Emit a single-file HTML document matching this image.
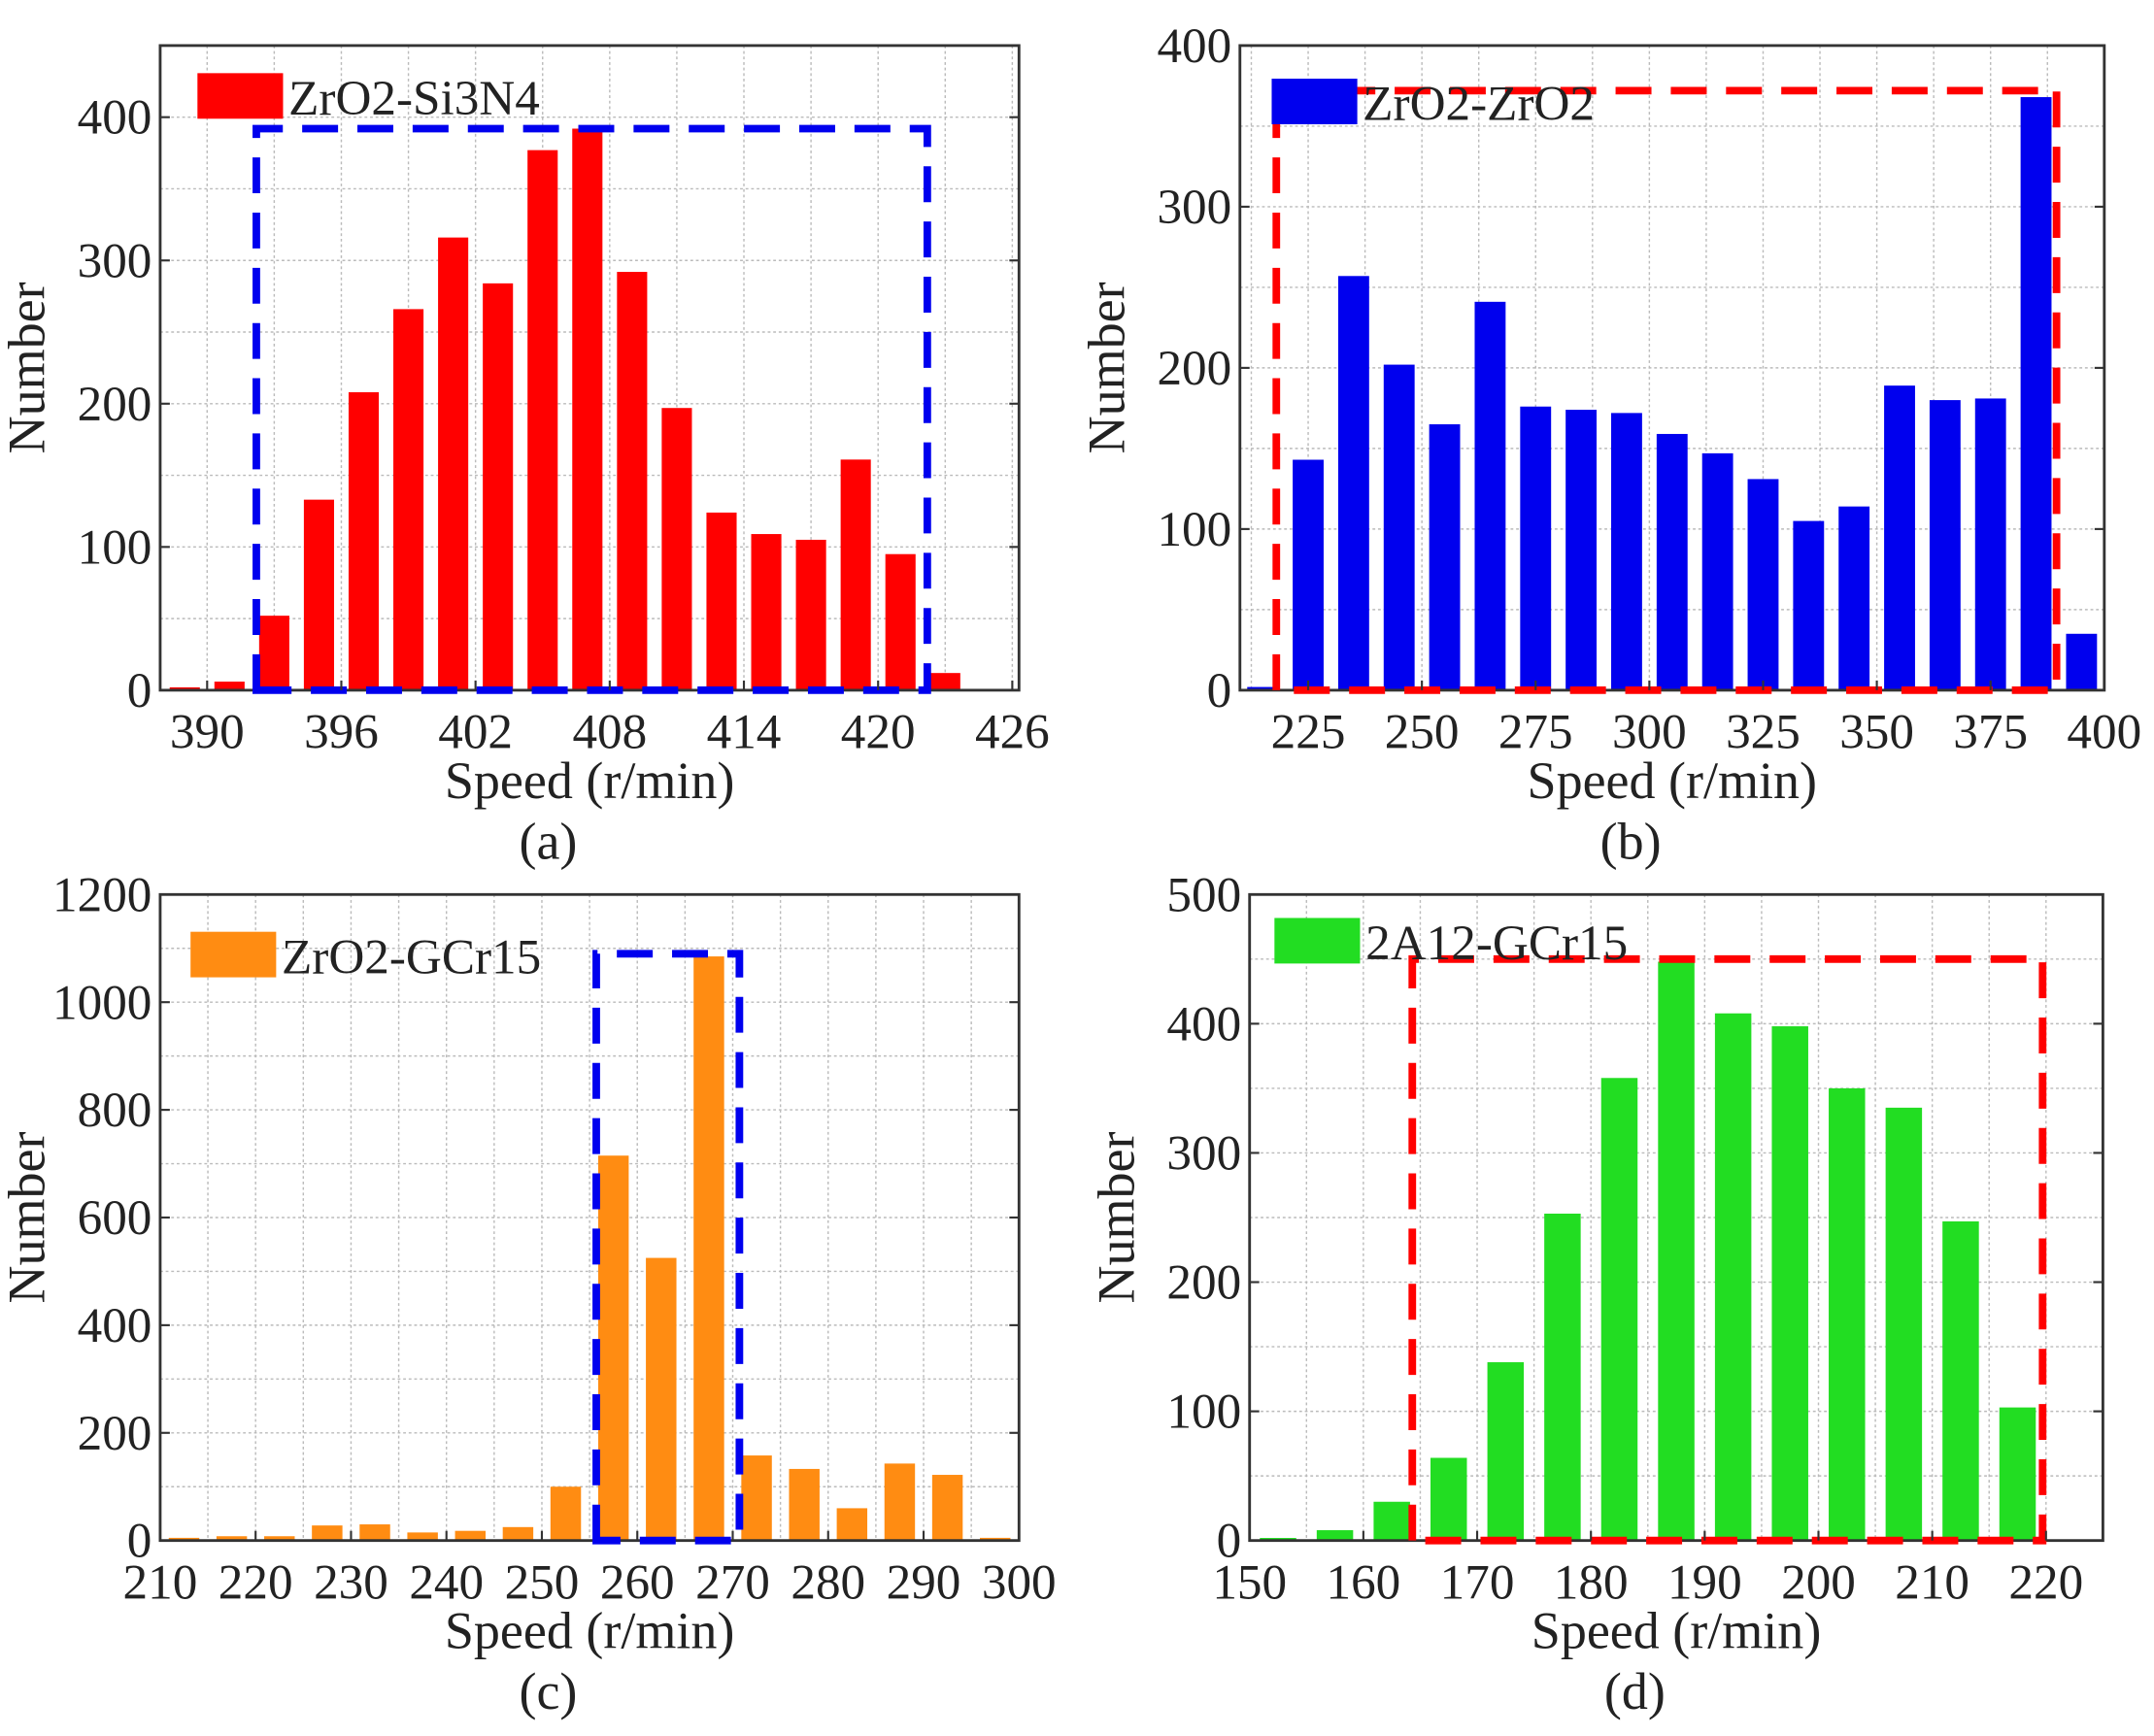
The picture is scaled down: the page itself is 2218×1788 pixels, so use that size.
<!DOCTYPE html>
<html><head><meta charset="utf-8"><style>html,body{margin:0;padding:0;background:#fff}svg{display:block}text{font-family:"Liberation Serif",serif;fill:#222}</style></head>
<body>
<svg id="fig" width="2218" height="1788" viewBox="0 0 1560 1257.6" preserveAspectRatio="none" xmlns="http://www.w3.org/2000/svg"></svg>
<script>
// Panel (a) ZrO2-Si3N4
const aCenters=[389,391,393,395,397,399,401,403,405,407,409,411,413,415,417,419,421,423];
const aValues=[2,6,52,133,208,266,316,284,377,392,292,197,124,109,105,161,95,12];
const aXTicks=[390,396,402,408,414,420,426];
const aYTicks=[0,100,200,300,400];
// Panel (b) ZrO2-ZrO2
const bCenters=[215,225,235,245,255,265,275,285,295,305,315,325,335,345,355,365,375,385,395];
const bValues=[2,143,257,202,165,241,176,174,172,159,147,131,105,114,189,180,181,368,35];
const bXTicks=[225,250,275,300,325,350,375,400];
const bYTicks=[0,100,200,300,400];
// Panel (c) ZrO2-GCr15
const cCenters=[212.5,217.5,222.5,227.5,232.5,237.5,242.5,247.5,252.5,257.5,262.5,267.5,272.5,277.5,282.5,287.5,292.5,297.5];
const cValues=[5,8,8,28,30,15,18,25,100,715,525,1085,158,133,60,143,122,5];
const cXTicks=[210,220,230,240,250,260,270,280,290,300];
const cYTicks=[0,200,400,600,800,1000,1200];
// Panel (d) 2A12-GCr15
const dCenters=[152.5,157.5,162.5,167.5,172.5,177.5,182.5,187.5,192.5,197.5,202.5,207.5,212.5,217.5];
const dValues=[2,8,30,64,138,253,358,448,408,398,350,335,247,103];
const dXTicks=[150,160,170,180,190,200,210,220];
const dYTicks=[0,100,200,300,400,500];

const NS='http://www.w3.org/2000/svg';
const svg=document.getElementById('fig');
function mk(tag,attrs,parent){const e=document.createElementNS(NS,tag);for(const k in attrs)e.setAttribute(k,attrs[k]);(parent||svg).appendChild(e);return e;}

function panel(p){
  const g=mk('g',{});
  
  
  const X=v=>p.L+(v-p.x0)/(p.x1-p.x0)*(p.R-p.L);
  const Y=v=>p.B-(v-p.y0)/(p.y1-p.y0)*(p.B-p.T);
  for(let v=p.gx0;v<=p.x1+1e-6;v+=p.gxs){const x=X(v);if(x<=p.L+1||x>=p.R-1)continue;
    const l=mk('line',{x1:x,x2:x,y1:p.T,y2:p.B,stroke:'#bbb','stroke-width':1,'stroke-dasharray':'2 2'},g);
    }
  for(let v=p.y0+p.gys;v<p.y1;v+=p.gys){const y=Y(v);
    const l=mk('line',{x1:p.L,x2:p.R,y1:y,y2:y,stroke:'#bbb','stroke-width':1,'stroke-dasharray':'2 2'},g);
    }
  p.centers.forEach((c,i)=>{const w=p.bw*(p.R-p.L)/(p.x1-p.x0);const y=Y(p.values[i]);
    const r=mk('rect',{x:X(c)-w/2,y:y,width:w,height:p.B-y,fill:p.color},g);
    });
  const fr=mk('rect',{x:p.L,y:p.T,width:p.R-p.L,height:p.B-p.T,fill:'none',stroke:'#333','stroke-width':2},g);
  
  const bx=mk('path',{d:`M${X(p.box[0])},${p.B} L${X(p.box[0])},${Y(p.box[2])} L${X(p.box[1])},${Y(p.box[2])} L${X(p.box[1])},${p.B} Z`,fill:'none',stroke:p.boxColor,'stroke-width':5.5,'stroke-dasharray':'26 14'},g);
  
  p.xt.forEach(v=>{const x=X(v);
    mk('line',{x1:x,x2:x,y1:p.B,y2:p.B-7,stroke:'#333','stroke-width':1.5},g);
    const t=mk('text',{x:x,y:p.B+42,'text-anchor':'middle','font-size':36},g);t.textContent=v;
    });
  p.yt.forEach(v=>{const y=Y(v);
    mk('line',{x1:p.L,x2:p.L+7,y1:y,y2:y,stroke:'#333','stroke-width':1.5},g);
    mk('line',{x1:p.R,x2:p.R-7,y1:y,y2:y,stroke:'#333','stroke-width':1.5},g);
    const t=mk('text',{x:p.L-6,y:y+12,'text-anchor':'end','font-size':36},g);t.textContent=v;
    });
  const yt=mk('text',{x:0,y:0,'text-anchor':'middle','font-size':38,transform:`translate(${p.L-84},${(p.T+p.B)/2}) rotate(-90)`},g);
  yt.textContent='Number';
  const xt=mk('text',{x:(p.L+p.R)/2,y:p.B+78,'text-anchor':'middle','font-size':38},g);
  xt.textContent='Speed (r/min)';
  const lb=mk('text',{x:(p.L+p.R)/2-30,y:p.B+122,'text-anchor':'middle','font-size':38},g);
  lb.textContent='('+p.id+')';
  const sw=mk('rect',{x:p.lg[0],y:p.lg[1],width:62,height:33,fill:p.color},g);
  
  const lt=mk('text',{x:p.lg[0]+66,y:p.lg[1]+30,'font-size':36},g);
  lt.textContent=p.name;
}
panel({id:'a',name:'ZrO2-Si3N4',L:116,R:738,T:33,B:500,x0:387.9,x1:426.3,y0:0,y1:450,centers:aCenters,values:aValues,xt:aXTicks,yt:aYTicks,bw:1.35,color:'#ff0000',boxColor:'#0000ee',box:[392.2,422.2,392],gx0:390,gxs:3,gys:50,lg:[143,53]});
panel({id:'b',name:'ZrO2-ZrO2',L:898,R:1524,T:33,B:500,x0:210,x1:400,y0:0,y1:400,centers:bCenters,values:bValues,xt:bXTicks,yt:bYTicks,bw:6.8,color:'#0000ee',boxColor:'#ff0000',box:[218,389.5,372],gx0:212.5,gxs:12.5,gys:50,lg:[921,57]});
panel({id:'c',name:'ZrO2-GCr15',L:116,R:738,T:648,B:1116,x0:210,x1:300,y0:0,y1:1200,centers:cCenters,values:cValues,xt:cXTicks,yt:cYTicks,bw:3.2,color:'#ff8c12',boxColor:'#0000ee',box:[255.7,270.7,1090],gx0:210,gxs:5,gys:100,lg:[138,675]});
panel({id:'d',name:'2A12-GCr15',L:905,R:1523,T:648,B:1116,x0:150,x1:225,y0:0,y1:500,centers:dCenters,values:dValues,xt:dXTicks,yt:dYTicks,bw:3.2,color:'#22dd22',boxColor:'#ff0000',box:[164.3,219.7,450],gx0:150,gxs:5,gys:50,lg:[923,665]});
</script>
</body></html>
